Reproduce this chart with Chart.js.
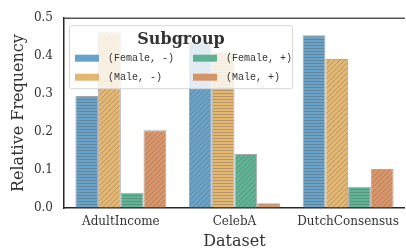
<!DOCTYPE html>
<html>
<head>
<meta charset="utf-8">
<script src="https://cdn.jsdelivr.net/npm/chart.js@4/dist/chart.umd.min.js"></script>
<style>
html,body{margin:0;padding:0;background:#fff;}
#wrap{width:406px;height:250px;}
</style>
</head>
<body>
<div id="wrap"><canvas id="c" width="406" height="250"></canvas></div>
<script>
const categories = ['AdultIncome', 'CelebA', 'DutchConsensus'];
const seriesLabels = ['(Female, -)', '(Male, -)', '(Female, +)', '(Male, +)'];
const femaleNeg = [0.295, 0.4375, 0.455];
const maleNeg = [0.463, 0.41, 0.3925];
const femalePos = [0.040, 0.1425, 0.056];
const malePos = [0.205, 0.0125, 0.103];
const yTicks = [0.0, 0.1, 0.2, 0.3, 0.4, 0.5];
const legendTitle = 'Subgroup';

const baseColors = ['rgb(106,162,200)', 'rgb(228,184,114)', 'rgb(96,180,150)', 'rgb(218,150,104)'];
const patchColors = ['rgb(104,162,201)', 'rgb(226,183,112)', 'rgb(92,178,146)', 'rgb(214,147,102)'];
const TEXT = '#333333';

function makePattern(color, kind) {
  const s = kind === 'h' ? 3 : 5;
  const c = document.createElement('canvas');
  c.width = s; c.height = s;
  const g = c.getContext('2d');
  g.fillStyle = color;
  g.fillRect(0, 0, s, s);
  g.strokeStyle = 'rgba(80,80,80,0.42)';
  g.lineWidth = 0.8;
  g.beginPath();
  if (kind === 'h') {
    g.moveTo(0, 0.5); g.lineTo(s, 0.5);
  } else {
    g.moveTo(-1, s + 1); g.lineTo(s + 1, -1);
    g.moveTo(-1, 1); g.lineTo(1, -1);
    g.moveTo(s - 1, s + 1); g.lineTo(s + 1, s - 1);
  }
  g.stroke();
  return g.createPattern(c, 'repeat');
}
const patterns = baseColors.map(col => ({h: makePattern(col, 'h'), d: makePattern(col, 'd')}));

const seriesValues = [femaleNeg, maleNeg, femalePos, malePos];
const datasets = seriesValues.map((vals, i) => ({
  label: seriesLabels[i],
  data: vals,
  backgroundColor: (ctx) => {
    const k = ctx.datasetIndex * categories.length + ctx.dataIndex;
    return k % 2 === 0 ? patterns[ctx.datasetIndex].h : patterns[ctx.datasetIndex].d;
  },
  borderColor: 'rgba(110,110,110,0.6)',
  borderWidth: 1,
  categoryPercentage: 0.8,
  barPercentage: 1.0
}));

const framePlugin = {
  id: 'frame',
  afterDraw(chart) {
    const {ctx, chartArea: a} = chart;
    ctx.save();
    ctx.strokeStyle = '#555';
    ctx.lineWidth = 1.5;
    ctx.beginPath();
    ctx.moveTo(a.left, a.top);
    ctx.lineTo(a.right, a.top);
    ctx.stroke();
    ctx.restore();
  }
};

const legendPlugin = {
  id: 'innerLegend',
  afterDatasetsDraw(chart) {
    const {ctx, chartArea: a} = chart;
    const x0 = a.left + 5.5, y0 = a.top + 7.5, w = 223, h = 63;
    ctx.save();
    ctx.fillStyle = 'rgba(255,255,255,0.8)';
    ctx.strokeStyle = 'rgba(210,210,210,0.9)';
    ctx.lineWidth = 1;
    ctx.beginPath();
    ctx.roundRect(x0, y0, w, h, 2);
    ctx.fill();
    ctx.stroke();
    ctx.fillStyle = TEXT;
    ctx.font = 'bold 16px "DejaVu Serif"';
    ctx.textAlign = 'center';
    ctx.textBaseline = 'alphabetic';
    ctx.fillText(legendTitle, x0 + w / 2, y0 + 18);
    ctx.font = '10px "Liberation Mono"';
    ctx.textAlign = 'left';
    ctx.textBaseline = 'middle';
    const colX = [x0 + 5.5, x0 + 123.5];
    const rowY = [y0 + 32.5, y0 + 51.5];
    chart.data.datasets.forEach((ds, i) => {
      const col = i < 2 ? 0 : 1;
      const row = i % 2;
      ctx.fillStyle = patchColors[i];
      ctx.fillRect(colX[col], rowY[row] - 3.5, 24, 7);
      ctx.fillStyle = TEXT;
      ctx.fillText(ds.label, colX[col] + 33, rowY[row] + 0.5);
    });
    ctx.restore();
  }
};

new Chart(document.getElementById('c'), {
  type: 'bar',
  data: {labels: categories, datasets: datasets},
  options: {
    responsive: false,
    animation: false,
    layout: {padding: {top: 8, right: 0, bottom: 0, left: 0}},
    plugins: {legend: {display: false}, tooltip: {enabled: false}},
    scales: {
      x: {
        grid: {display: true, color: 'rgba(0,0,0,0)', drawTicks: false},
        border: {display: true, color: '#262626', width: 1.5},
        ticks: {color: TEXT, font: {family: 'DejaVu Serif', size: 12}, padding: 7, maxRotation: 0, autoSkip: false},
        title: {display: true, text: 'Dataset', color: TEXT, font: {family: 'DejaVu Serif', size: 16, lineHeight: 1.0}, padding: {top: 0, bottom: 0}},
        afterFit(s) { s.height = 42; }
      },
      y: {
        min: 0, max: 0.5,
        afterBuildTicks(s) { s.ticks = yTicks.map(v => ({value: v})); },
        grid: {display: true, color: 'rgba(0,0,0,0)', drawTicks: false},
        border: {display: true, color: '#262626', width: 1.5},
        ticks: {color: TEXT, font: {family: 'DejaVu Serif', size: 12}, padding: 11, callback: v => v.toFixed(1)},
        title: {display: true, text: 'Relative Frequency', color: TEXT, font: {family: 'DejaVu Serif', size: 16, lineHeight: 1.2}, padding: {top: 9, bottom: 0}},
        afterFit(s) { s.width = 64; }
      }
    }
  },
  plugins: [legendPlugin, framePlugin]
});
</script>
</body>
</html>
